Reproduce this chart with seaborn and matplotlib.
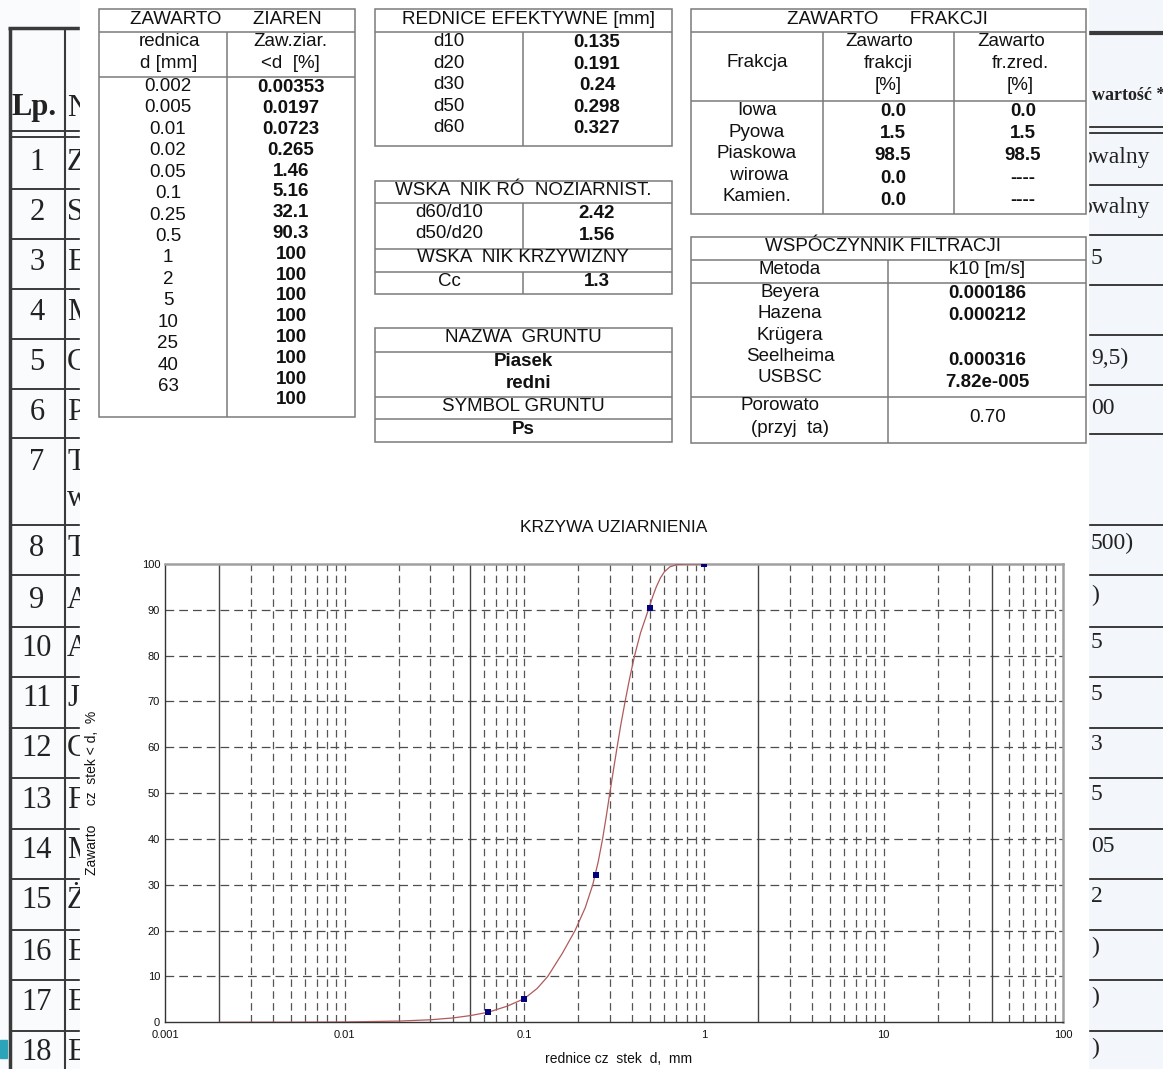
import matplotlib
matplotlib.use("Agg")
import matplotlib.pyplot as plt
from matplotlib.patches import Rectangle
from matplotlib.ticker import NullLocator
import numpy as np
import seaborn as sns

# tabela: zawartosc ziaren
ziarna_d = ["0.002", "0.005", "0.01", "0.02", "0.05", "0.1", "0.25", "0.5",
            "1", "2", "5", "10", "25", "40", "63"]
ziarna_proc = ["0.00353", "0.0197", "0.0723", "0.265", "1.46", "5.16", "32.1",
               "90.3", "100", "100", "100", "100", "100", "100", "100", "100"]

# srednice efektywne
efekt_nazwy = ["d10", "d20", "d30", "d50", "d60"]
efekt_wart = ["0.135", "0.191", "0.24", "0.298", "0.327"]

# wskazniki
wsk_nazwy = ["d60/d10", "d50/d20"]
wsk_wart = ["2.42", "1.56"]
cc_wart = "1.3"

grunt_nazwa = ["Piasek", "redni"]
grunt_symbol = "Ps"

# frakcje
frakcje = ["Iowa", "Pyowa", "Piaskowa", " wirowa", "Kamien."]
frakcje_proc = ["0.0", "1.5", "98.5", "0.0", "0.0"]
frakcje_zred = ["0.0", "1.5", "98.5", "----", "----"]

# filtracja
metody = ["Beyera", "Hazena", "Krügera", "Seelheima", "USBSC"]
k10 = ["0.000186", "0.000212", "", "0.000316", "7.82e-005"]
porowatosc = "0.70"

# krzywa uziarnienia i punkty sitowe
krzywa_d = [0.002, 0.005, 0.01, 0.02, 0.03, 0.04, 0.05, 0.063, 0.08, 0.1,
            0.118, 0.135, 0.1625, 0.1915, 0.2183, 0.2403, 0.2577, 0.2726,
            0.286, 0.2991, 0.3132, 0.3283, 0.3447, 0.3639, 0.3854, 0.4109,
            0.4436, 0.4902, 0.5193, 0.5426, 0.5728, 0.6021, 0.6473, 0.7126,
            0.79, 1.0]
krzywa_proc = [0.00353, 0.0197, 0.0723, 0.265, 0.55, 0.95, 1.46, 2.2, 3.5,
               5.16, 7.4, 10, 15, 20, 25, 30, 35, 40, 45, 50, 55, 60, 65, 70,
               75, 80, 85, 90, 93, 95, 97, 98.3, 99.4, 99.9, 100, 100]
sito_d = [0.063, 0.1, 0.25, 0.5, 1.0]
sito_proc = [2.2, 5.16, 32.1, 90.3, 100.0]
granice_frakcji = [0.002, 0.05, 2, 40]

# skan w tle
skan_lp = [str(i) for i in range(1, 19)]
skan_litery = ["Z", "S", "E", "M", "C", "P", "T", "T", "A", "A", "J", "C",
               "F", "M", "Ż", "E", "E", "E"]
skan_prawe = ["owalny", "owalny", "5", "", "9,5)", "00", "", "500)", ")", "5",
              "5", "3", "5", "05", "2", ")", ")", ")"]

sns.set_style("white")
plt.rcParams["font.family"] = ["Liberation Sans", "DejaVu Sans"]

fig = plt.figure(figsize=(11.63, 10.69), dpi=100)
bg = fig.add_axes([0, 0, 1, 1])
bg.set_xlim(0, 1163)
bg.set_ylim(1069, 0)
bg.axis("off")

# waski pasek skanu po lewej (litery przyciete na krawedzi)
lewy = fig.add_axes([0, 0, 80 / 1163, 1])
lewy.set_xlim(0, 80)
lewy.set_ylim(1069, 0)
lewy.axis("off")

LINIA = "#7a7a7a"
SKAN = "#3a3a3a"
ROZM = 13.5


def box(x0, y0, x1, y1):
    bg.add_patch(Rectangle((x0, y0), x1 - x0, y1 - y0, fill=False,
                           ec=LINIA, lw=1.1, zorder=5))


def hline(y, x0, x1, c=LINIA, lw=1.1, z=5):
    bg.plot([x0, x1], [y, y], color=c, lw=lw, zorder=z, solid_capstyle="butt")


def vline(x, y0, y1, c=LINIA, lw=1.1, z=5):
    bg.plot([x, x], [y0, y1], color=c, lw=lw, zorder=z, solid_capstyle="butt")


def txt(x, y, s, bold=False, size=ROZM, ha="center"):
    bg.text(x, y - 1.5, s, ha=ha, va="center", fontsize=size,
            fontweight="bold" if bold else "normal", color="#111", zorder=6)


# --- skan w tle ---
bg.add_patch(Rectangle((1088, 0), 75, 1069, color="#f3f6fa", zorder=0))
bg.add_patch(Rectangle((0, 0), 80, 1069, color="#fafbfc", zorder=0))
wiersze = [163, 213, 263, 313, 363, 413, 463, 548, 600, 648, 699, 749, 800,
           851, 901, 952, 1002, 1053]
linie = [189, 239, 289, 339, 389, 438, 525, 575, 627, 677, 728, 778, 829, 879,
         930, 980, 1031]
vline(9.5, 28, 1069, SKAN, 2.5, 1)
vline(65, 28, 1069, SKAN, 1.5, 1)
hline(28, 8, 80, SKAN, 2.5, 1)
hline(33, 1088, 1163, SKAN, 3, 1)
for yy in [131, 137] + linie:
    hline(yy, 9, 80, SKAN, 1.4, 1)
    hline(yy - 4 if yy < 450 else yy, 1088, 1163, SKAN, 1.4, 1)
skan_font = dict(family=["Liberation Serif", "DejaVu Serif"], color="#222",
                 zorder=1, va="center")
lewy.text(12, 108, "Lp.", fontsize=22, fontweight="bold", ha="left",
          clip_on=True, **skan_font)
lewy.text(67, 108, "N", fontsize=22, ha="left", clip_on=True, **skan_font)
bg.text(1092, 95, "wartość *", fontsize=13, fontweight="bold", ha="left",
        **skan_font)
for i, (lp, lit, pr) in enumerate(zip(skan_lp, skan_litery, skan_prawe)):
    y = wiersze[i]
    lewy.text(37, y, lp, fontsize=22, ha="center", clip_on=True, **skan_font)
    lewy.text(67, y, lit, fontsize=22, ha="left", clip_on=True, **skan_font)
    bg.text(1080 if pr.startswith("o") else 1091, y - 5, pr, fontsize=17,
            ha="left", **skan_font)
lewy.text(67, 498, "w", fontsize=22, ha="left", clip_on=True, **skan_font)
bg.add_patch(Rectangle((0, 1040), 7, 18, color="#2ba3b8", zorder=1))

# biale tlo raportu
bg.add_patch(Rectangle((80, 0), 1008, 1069, color="white", zorder=2))

# --- tabela 1: zawartosc ziaren ---
box(99, 9.3, 355, 417)
hline(32.3, 99, 355)
hline(77.3, 99, 355)
vline(227.3, 32.3, 417)
txt(226, 20.5, "ZAWARTO      ZIAREN")
txt(169, 43.3, "rednica")
txt(169, 65, "d [mm]")
txt(290, 43.3, "Zaw.ziar.")
txt(290, 65, "<d  [%]")
for i, s in enumerate(ziarna_d):
    txt(168, 88 + i * 21.43, s)
for i, s in enumerate(ziarna_proc):
    txt(291, 89.5 + i * 20.8, s, bold=True)

# --- tabela 2: srednice efektywne ---
box(375, 9.3, 672, 146)
hline(32.3, 375, 672)
vline(523.3, 32.3, 146)
txt(529, 20.5, "REDNICE EFEKTYWNE [mm]")
for i, (n, v) in enumerate(zip(efekt_nazwy, efekt_wart)):
    txt(449, 43.3 + i * 21.5, n)
    txt(597, 44 + i * 21.6, v, bold=True)

# --- tabela 3: wskazniki ---
box(375, 181, 672, 294)
for yy in [203.3, 248.7, 271.7]:
    hline(yy, 375, 672)
vline(523.3, 203.3, 248.7)
vline(523.3, 271.7, 294)
txt(523, 192, "WSKA  NIK RÓ  NOZIARNIST.")
for i, (n, v) in enumerate(zip(wsk_nazwy, wsk_wart)):
    txt(449, 214 + i * 21.5, n)
    txt(597, 214.5 + i * 22, v, bold=True)
txt(523, 259.5, "WSKA  NIK KRZYWIZNY")
txt(449, 282.5, "Cc")
txt(597, 283, cc_wart, bold=True)

# --- tabela 4: nazwa gruntu ---
box(375, 328.3, 672, 442.3)
for yy in [351.7, 397.3, 419.3]:
    hline(yy, 375, 672)
txt(523, 339.5, "NAZWA  GRUNTU")
txt(523, 362.7, grunt_nazwa[0], bold=True)
txt(529, 385, grunt_nazwa[1], bold=True)
txt(523, 408, "SYMBOL GRUNTU")
txt(523, 431, grunt_symbol, bold=True)

# --- tabela 5: zawartosc frakcji ---
box(691, 9.3, 1086, 214)
hline(32.3, 691, 1086)
hline(100.7, 691, 1086)
vline(822.7, 32.3, 214)
vline(954.3, 32.3, 214)
txt(887.5, 20.5, "ZAWARTO      FRAKCJI")
txt(757, 64.3, "Frakcja")
txt(879, 43.3, "Zawarto")
txt(888, 65, "frakcji")
txt(888, 87, "[%]")
txt(1011, 43.3, "Zawarto")
txt(1020, 65, "fr.zred.")
txt(1020, 87, "[%]")
for i, (n, a, b) in enumerate(zip(frakcje, frakcje_proc, frakcje_zred)):
    txt(757, 112.3 + i * 21.5, n)
    txt(893, 112.7 + i * 22.4, a, bold=True)
    txt(1023, 112.7 + i * 22.4, b, bold=True)

# --- tabela 6: wspolczynnik filtracji ---
box(691, 237.3, 1086, 442.7)
for yy in [260, 282.7, 397.3]:
    hline(yy, 691, 1086)
vline(888.3, 260, 442.7)
txt(883, 248, "WSPÓCZYNNIK FILTRACJI")
txt(790, 271, "Metoda")
txt(987, 271, "k10 [m/s]")
for i, (m, k) in enumerate(zip(metody, k10)):
    txt(790, 294 + i * 21.3, m)
    txt(987.5, 294.7 + i * 22.3, k, bold=True)
txt(780, 407.3, "Porowato")
txt(790, 430, "(przyj  ta)")
txt(987.5, 419.3, porowatosc)

# --- wykres ---
bg.text(614, 528, "KRZYWA UZIARNIENIA", ha="center", va="center",
        fontsize=12.5, color="#111", zorder=6)
bg.text(619, 1059, "rednice cz  stek  d,  mm", ha="center", va="center",
        fontsize=10, color="#111", zorder=6)
bg.text(92, 793, "Zawarto     cz  stek < d,  %", ha="center", va="center",
        rotation=90, fontsize=10, color="#111", zorder=6)

ax = fig.add_axes([165 / 1163, 1 - 1022.3 / 1069, 898.3 / 1163, 458.3 / 1069])
ax.set_facecolor("white")
ax.set_xscale("log")
ax.set_xlim(0.001, 100)
ax.set_ylim(0, 100)

for y in range(10, 100, 10):
    ax.axhline(y, color="#4d4d4d", lw=0.9, ls=(0, (7, 4)), zorder=1)
siatka = [m * 10.0 ** e for e in range(-3, 2) for m in range(1, 10)]
for x in siatka:
    if np.isclose(x, 0.001) or any(np.isclose(x, g) for g in granice_frakcji):
        continue
    ax.axvline(x, color="#555555", lw=0.9, ls=(0, (6, 3.5)), zorder=1)
for g in granice_frakcji:
    ax.axvline(g, color="#444444", lw=1.0, zorder=1)

sns.lineplot(x=krzywa_d, y=krzywa_proc, ax=ax, color="#b05a5a", lw=0.9,
             estimator=None, sort=False, zorder=3)
sns.scatterplot(x=sito_d, y=sito_proc, ax=ax, marker="s", color="#000080",
                s=22, linewidth=0, zorder=4)

ax.set_xticks([0.001, 0.01, 0.1, 1, 10, 100])
ax.set_xticklabels(["0.001", "0.01", "0.1", "1", "10", "100"])
ax.xaxis.set_minor_locator(NullLocator())
ax.set_yticks(range(0, 101, 10))
ax.tick_params(axis="both", length=0, labelsize=8, colors="#111")
ax.tick_params(axis="x", pad=5.5)
ax.tick_params(axis="y", pad=3.5)
ax.set_xlabel("")
ax.set_ylabel("")
for s in ["left", "bottom"]:
    ax.spines[s].set_color("#333333")
    ax.spines[s].set_linewidth(1.0)
for s in ["top", "right"]:
    ax.spines[s].set_color("#a0a0a0")
    ax.spines[s].set_linewidth(1.8)

fig.savefig("out.png", dpi=100)
